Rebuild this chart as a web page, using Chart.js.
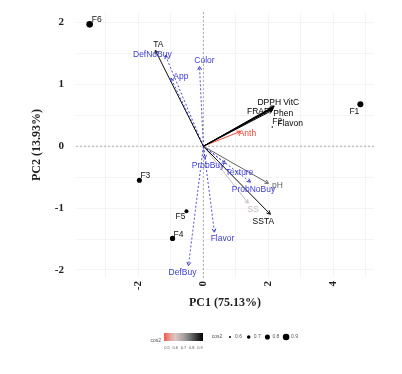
<!DOCTYPE html>
<html>
<head>
<meta charset="utf-8">
<script src="https://cdn.jsdelivr.net/npm/chart.js@4/dist/chart.umd.min.js"></script>
<style>
html, body { margin: 0; padding: 0; background: #fff; }
#wrap { width: 402px; height: 374px; position: relative; }
</style>
</head>
<body>
<div id="wrap"><canvas id="biplot"></canvas></div>
<script>
// individuals (samples)
const indNames = ['F1', 'F2', 'F3', 'F4', 'F5', 'F6'];
const indPC1 = [4.83, 2.12, -1.97, -0.95, -0.52, -3.5];
const indPC2 = [0.68, 0.31, -0.55, -1.49, -1.05, 1.97];
const indCos2 = [0.86, 0.57, 0.80, 0.81, 0.73, 0.90];

// active variables
const varNames = ['TA', 'DPPH', 'FRAP', 'VitC', 'Phen', 'Flavon', 'Anth', 'pH', 'SSTA', 'SS'];
const varPC1 = [-1.48, 2.15, 2.12, 2.18, 2.15, 2.12, 1.14, 2.0, 2.06, 1.38];
const varPC2 = [1.55, 0.63, 0.61, 0.65, 0.61, 0.58, 0.24, -0.6, -1.1, -0.92];
const varCos2 = [0.93, 0.97, 0.96, 0.97, 0.96, 0.95, 0.48, 0.82, 0.94, 0.66];

// supplementary (sensory) variables
const supNames = ['DefNoBuy', 'App', 'Color', 'ProbBuy', 'Texture', 'ProbNoBuy', 'Flavor', 'DefBuy'];
const supPC1 = [-1.17, -1.0, -0.12, 0.05, 0.68, 1.45, 0.34, -0.46];
const supPC2 = [1.47, 1.1, 1.29, -0.2, -0.28, -0.58, -1.39, -1.93];

const sizeLegendTicks = [0.6, 0.7, 0.8, 0.9];
const colorLegendTicks = ['0.5', '0.6', '0.7', '0.8', '0.9'];

// label nudges in px (label centre relative to the mark)
const labelShift = {
    F1: [-6, 7], F2: [5, -5], F3: [6, -5], F4: [6, -4], F5: [-6, 5], F6: [7, -5],
    TA: [3, -6], DPPH: [-4, -5], FRAP: [-14, 3], VitC: [17, -3], Phen: [10, 5], Flavon: [18, 13],
    Anth: [7, 2], pH: [9, 2], SSTA: [-7, 7], SS: [5, 7],
    DefNoBuy: [-13, -1], App: [10, -2], Color: [5, -6], ProbBuy: [3, 7],
    Texture: [14, 9], ProbNoBuy: [3, 8], Flavor: [8, 6], DefBuy: [-6, 7]
};

const supBlue = '#3c3cd6';
const cos2Stops = [
    [0.45, [246, 42, 22]],
    [0.62, [224, 204, 200]],
    [0.75, [152, 152, 152]],
    [0.95, [0, 0, 0]]
];

function cos2Color(c) {
    if (c <= cos2Stops[0][0]) return 'rgb(' + cos2Stops[0][1].join(',') + ')';
    for (let i = 1; i < cos2Stops.length; i++) {
        const [c1, col1] = cos2Stops[i];
        const [c0, col0] = cos2Stops[i - 1];
        if (c <= c1) {
            const t = (c - c0) / (c1 - c0);
            const rgb = col0.map((v, k) => Math.round(v + (col1[k] - v) * t));
            return 'rgb(' + rgb.join(',') + ')';
        }
    }
    return 'rgb(0,0,0)';
}

function cos2Radius(c) {
    return Math.max(0.8, 1 + (c - 0.6) * 7.7);
}

const serifBold = { family: "'Liberation Serif', 'DejaVu Serif', serif", weight: 'bold' };

const datasets = [];
datasets.push({
    label: 'individuals',
    data: indPC1.map((x, i) => ({ x: x, y: indPC2[i] })),
    backgroundColor: '#000',
    borderColor: '#000',
    pointRadius: indCos2.map(cos2Radius),
    pointBorderWidth: 0
});
varNames.forEach((name, i) => {
    datasets.push({
        label: name,
        data: [{ x: 0, y: 0 }, { x: varPC1[i], y: varPC2[i] }],
        showLine: true,
        borderColor: cos2Color(varCos2[i]),
        borderWidth: 1,
        pointRadius: 0,
        kind: 'var'
    });
});
supNames.forEach((name, i) => {
    datasets.push({
        label: name,
        data: [{ x: 0, y: 0 }, { x: supPC1[i], y: supPC2[i] }],
        showLine: true,
        borderColor: supBlue,
        borderWidth: 0.9,
        borderDash: [2, 2],
        pointRadius: 0,
        kind: 'sup'
    });
});

const overlay = {
    id: 'overlay',
    beforeDatasetsDraw(chart) {
        const { ctx, chartArea: a, scales: { x, y } } = chart;
        ctx.save();
        ctx.strokeStyle = '#9a9a9a';
        ctx.lineWidth = 0.8;
        ctx.setLineDash([2, 2]);
        const y0 = y.getPixelForValue(0), x0 = x.getPixelForValue(0);
        ctx.beginPath();
        ctx.moveTo(a.left, y0); ctx.lineTo(a.right, y0);
        ctx.moveTo(x0, a.top); ctx.lineTo(x0, a.bottom);
        ctx.stroke();
        ctx.restore();
    },
    afterDatasetsDraw(chart) {
        const { ctx, scales: { x, y } } = chart;
        const ox = x.getPixelForValue(0), oy = y.getPixelForValue(0);
        ctx.save();
        // arrow heads
        chart.data.datasets.forEach(ds => {
            if (!ds.kind) return;
            const ex = x.getPixelForValue(ds.data[1].x), ey = y.getPixelForValue(ds.data[1].y);
            const ang = Math.atan2(ey - oy, ex - ox);
            ctx.strokeStyle = ds.borderColor;
            ctx.lineWidth = 1;
            ctx.setLineDash([]);
            ctx.beginPath();
            ctx.moveTo(ex - 4 * Math.cos(ang - 0.5), ey - 4 * Math.sin(ang - 0.5));
            ctx.lineTo(ex, ey);
            ctx.lineTo(ex - 4 * Math.cos(ang + 0.5), ey - 4 * Math.sin(ang + 0.5));
            ctx.stroke();
        });
        // labels
        ctx.font = "8.5px 'Liberation Sans', Arial, sans-serif";
        ctx.textAlign = 'center';
        ctx.textBaseline = 'middle';
        const put = (name, vx, vy, color) => {
            const s = labelShift[name] || [0, -6];
            ctx.fillStyle = color;
            ctx.fillText(name, x.getPixelForValue(vx) + s[0], y.getPixelForValue(vy) + s[1]);
        };
        indNames.forEach((n, i) => put(n, indPC1[i], indPC2[i], '#111'));
        varNames.forEach((n, i) => put(n, varPC1[i], varPC2[i], cos2Color(varCos2[i])));
        supNames.forEach((n, i) => put(n, supPC1[i], supPC2[i], supBlue));
        ctx.restore();
    },
    afterDraw(chart) {
        const ctx = chart.ctx;
        ctx.save();
        // colour bar legend
        const bx = 164, by = 333, bw = 39, bh = 8;
        const grad = ctx.createLinearGradient(bx, 0, bx + bw, 0);
        for (let k = 0; k <= 10; k++) {
            grad.addColorStop(k / 10, cos2Color(0.5 + 0.45 * k / 10));
        }
        ctx.fillStyle = grad;
        ctx.fillRect(bx, by, bw, bh);
        ctx.fillStyle = '#555';
        ctx.font = "5px 'Liberation Sans', Arial, sans-serif";
        ctx.textAlign = 'right';
        ctx.textBaseline = 'middle';
        ctx.fillText('cos2', bx - 3, by + 8);
        ctx.textAlign = 'center';
        ctx.font = "4px 'Liberation Sans', Arial, sans-serif";
        colorLegendTicks.forEach((t, i) => {
            ctx.fillText(t, bx + 3 + i * (bw - 6) / (colorLegendTicks.length - 1), by + bh + 7);
        });
        // size legend
        ctx.font = "5px 'Liberation Sans', Arial, sans-serif";
        ctx.textAlign = 'center';
        ctx.fillText('cos2', 217, 337);
        sizeLegendTicks.forEach((v, i) => {
            const cx = 230 + i * 18.7;
            ctx.fillStyle = '#000';
            ctx.beginPath();
            ctx.arc(cx, 337, cos2Radius(v), 0, Math.PI * 2);
            ctx.fill();
            ctx.fillStyle = '#555';
            ctx.fillText(String(v), cx + 8.5, 337);
        });
        ctx.restore();
    }
};

new Chart(document.getElementById('biplot'), {
    type: 'scatter',
    data: { datasets: datasets },
    options: {
        responsive: true,
        maintainAspectRatio: false,
        animation: false,
        layout: { padding: { left: 30, right: 28, top: 12, bottom: 60 } },
        plugins: {
            legend: { display: false },
            tooltip: { enabled: false }
        },
        scales: {
            x: {
                type: 'linear',
                min: -3.92,
                max: 5.25,
                afterFit: s => { s.height = 36; },
                border: { display: false },
                grid: { color: '#ececec', lineWidth: 0.6, drawTicks: false },
                ticks: {
                    stepSize: 1,
                    includeBounds: false,
                    autoSkip: false,
                    minRotation: 90,
                    maxRotation: 90,
                    padding: 3,
                    color: '#222',
                    font: Object.assign({ size: 11 }, serifBold),
                    callback: v => (Math.round(v) % 2 === 0 ? String(Math.round(v)) : '')
                },
                title: {
                    display: true,
                    text: 'PC1 (75.13%)',
                    color: '#222',
                    font: Object.assign({ size: 12 }, serifBold),
                    padding: { top: 0, bottom: 4 }
                }
            },
            y: {
                type: 'linear',
                min: -2.13,
                max: 2.17,
                afterFit: s => { s.width = 46; },
                border: { display: false },
                grid: { color: '#ececec', lineWidth: 0.6, drawTicks: true, tickLength: 11, tickColor: 'rgba(0,0,0,0)' },
                ticks: {
                    stepSize: 0.5,
                    includeBounds: false,
                    autoSkip: false,
                    padding: 1,
                    color: '#222',
                    font: Object.assign({ size: 11 }, serifBold),
                    callback: v => (Math.abs(v - Math.round(v)) < 1e-9 ? String(Math.round(v)) : '')
                },
                title: {
                    display: true,
                    text: 'PC2 (13.93%)',
                    color: '#222',
                    font: Object.assign({ size: 12 }, serifBold),
                    padding: { top: 0, bottom: 0 }
                }
            }
        }
    },
    plugins: [overlay]
});
</script>
</body>
</html>
